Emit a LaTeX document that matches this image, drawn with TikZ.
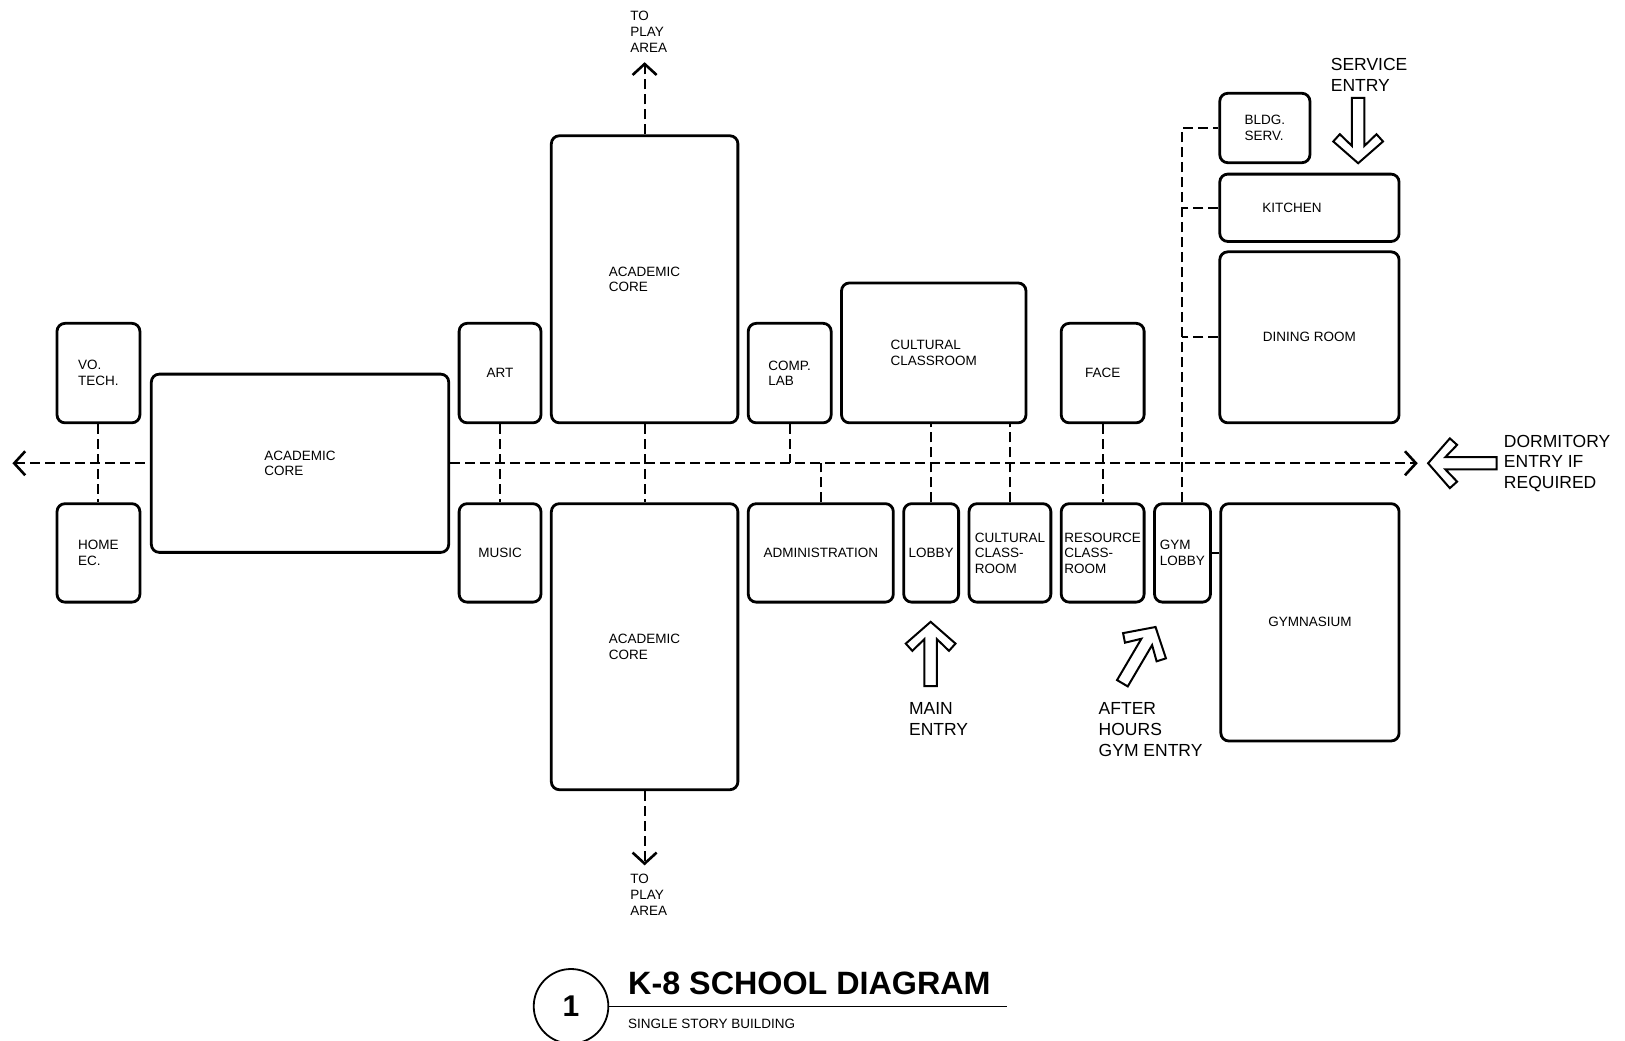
\documentclass[tikz,border=0pt]{standalone}
\usepackage{fontspec}
\setmainfont{Liberation Sans}
\usetikzlibrary{arrows.meta}
\pgfdeclarelayer{background}
\pgfsetlayers{background,main}
\tikzset{
  room/.style={draw, line width=2.8pt, rounded corners=8pt, fill=white, inner sep=0pt,
    align=left, font=\fontsize{13.5}{15.5}\selectfont},
  link/.style={line width=2pt, dash pattern=on 10pt off 5pt},
  solidlink/.style={line width=2pt},
  biglabel/.style={inner sep=0pt, align=left, anchor=west, font=\fontsize{17.5}{20.7}\selectfont},
  smalllabel/.style={inner sep=0pt, align=left, anchor=west, font=\fontsize{13.5}{16}\selectfont},
  barrow/.style={draw, line width=2pt, fill=white, line join=miter},
  pics/blockarrow/.style={code={
    \path[barrow] (0,0) -- (-21,24) -- (-28,17.7) -- (-16.7,6) -- (-#1,6) -- (-#1,-6)
      -- (-16.7,-6) -- (-28,-17.7) -- (-21,-24) -- cycle;}}
}
% name, x1, y1, x2, y2, text
\newcommand{\placeroom}[6]{%
  \node[room, minimum width={(#4-#2)*1.0364pt}, minimum height={(#5-#3)*1.0364pt}]
    (#1) at ({(#2+#4)/2},{(#3+#5)/2}) {#6};}
\begin{document}
\begin{tikzpicture}[x=1.0364pt,y=-1.0364pt,
  >={Straight Barb[length=11pt,width=24pt,line width=2.6pt]}]
\useasboundingbox (0,0) rectangle (1568,1004);

% rooms
\placeroom{votech}{55}{312}{135}{408}{VO.\\TECH.}
\placeroom{homeec}{55}{486}{135}{581}{HOME\\EC.}
\placeroom{acadL}{146}{361}{433}{533}{ACADEMIC\\CORE}
\placeroom{art}{443}{312}{522}{408}{ART}
\placeroom{music}{443}{486}{522}{581}{MUSIC}
\placeroom{acadT}{532}{131}{712}{408}{ACADEMIC\\CORE}
\placeroom{acadB}{532}{486}{712}{762}{ACADEMIC\\CORE}
\placeroom{complab}{722}{312}{802}{408}{COMP.\\LAB}
\placeroom{culttop}{812}{273}{990}{408}{CULTURAL\\CLASSROOM}
\placeroom{face}{1024}{312}{1104}{408}{FACE}
\placeroom{admin}{722}{486}{862}{581}{ADMINISTRATION}
\placeroom{lobby}{872}{486}{925}{581}{LOBBY}
\placeroom{cultlow}{935}{486}{1014}{581}{CULTURAL\\CLASS-\\ROOM}
\placeroom{resource}{1024}{486}{1104}{581}{RESOURCE\\CLASS-\\ROOM}
\placeroom{gymlobby}{1114}{486}{1168}{581}{GYM\\LOBBY}
\placeroom{gym}{1178}{486}{1350}{715}{GYMNASIUM}
\placeroom{bldg}{1177}{90}{1264}{157}{BLDG.\\SERV.}
\placeroom{kitchen}{1177}{168}{1350}{233}{\makebox[94pt][l]{KITCHEN}}
\placeroom{dining}{1177}{243}{1350}{408}{DINING ROOM}

% free ends
\coordinate (westend) at (12,447);
\coordinate (eastend) at (1368,447);
\coordinate (playN) at (622,60);
\coordinate (playS) at (622,835);

% connectors
\begin{pgfonlayer}{background}
\draw[link,<->] (westend) -- (eastend);
\draw[link] (votech) -- (homeec);
\draw[link] (art) -- (music);
\draw[link] (acadT) -- (acadB);
\draw[link] (complab.south) -- (complab.south |- westend);
\draw[link] (admin.north) -- (admin.north |- westend);
\draw[link] (lobby.north) -- (lobby.north |- culttop.south);
\draw[link] (cultlow.north) -- (cultlow.north |- culttop.south);
\draw[link] (face) -- (resource);
\draw[link] (gymlobby.north) -- (gymlobby.north |- bldg.west) -- (bldg.west);
\draw[link] (kitchen.west) -- (kitchen.west -| gymlobby.north);
\draw[link] (dining.west) -- (dining.west -| gymlobby.north);
\draw[solidlink] (gymlobby.east) -- (gym.west |- gymlobby.east);
\draw[link,->] (acadT.north) -- (playN);
\draw[link,->] (acadB.south) -- (playS);
\end{pgfonlayer}

% labels
\node[smalllabel] (playNlbl) at (608,30.5) {TO\\PLAY\\AREA};
\node[smalllabel] (playSlbl) at (608,863) {TO\\PLAY\\AREA};
\node[biglabel] (mainlbl) at (877,694) {MAIN\\ENTRY};
\node[biglabel] (afterlbl) at (1060,704) {AFTER\\HOURS\\GYM ENTRY};
\node[biglabel] (servlbl) at (1284,72) {SERVICE\\ENTRY};
\node[biglabel] (dormlbl) at (1451,447) {DORMITORY\\ENTRY IF\\REQUIRED};

% block arrows
\pic[rotate=90] at (898,600) {blockarrow=62};
\pic[rotate=59.5] at (1115,605) {blockarrow=63};
\pic[rotate=-90] at (1310.5,157.5) {blockarrow=63};
\pic[rotate=180] at (1378,447) {blockarrow=66};

% title block
\node[circle, draw, line width=1.8pt, minimum size=74.6pt, inner sep=0pt,
  font=\fontsize{30}{30}\selectfont\bfseries] (num) at (551,971) {1};
\node[anchor=base west, inner sep=0pt, font=\fontsize{32.3}{36}\selectfont\bfseries]
  (title) at (606,960) {K-8 SCHOOL DIAGRAM};
\coordinate (titleend) at (972,971);
\draw[line width=1.5pt] (num.east) -- (titleend);
\node[smalllabel] (subtitle) at (606,988) {SINGLE STORY BUILDING};
\end{tikzpicture}
\end{document}
